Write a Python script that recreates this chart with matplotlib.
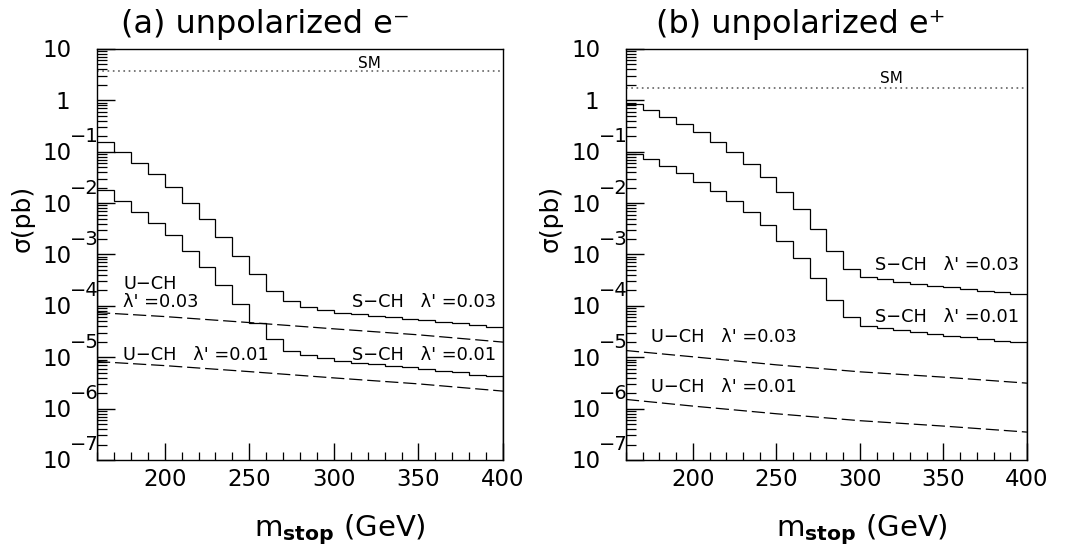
import numpy as np
import matplotlib
matplotlib.use("Agg")
import matplotlib.pyplot as plt
from matplotlib.ticker import LogLocator, MultipleLocator, NullFormatter
from matplotlib.transforms import offset_copy

plt.rcParams["font.family"] = ["DejaVu Sans"]
plt.rcParams["lines.scale_dashes"] = False

# stop mass bin edges (GeV), 10 GeV bins
edges = np.arange(160, 401, 10)
m_uch = [160, 200, 250, 300, 350, 400]

# (a) unpolarized e-   cross sections in pb
a_sch_03 = [1.53e-1, 1.00e-1, 6.14e-2, 3.75e-2, 2.04e-2, 1.02e-2, 4.86e-3, 2.23e-3,
            9.53e-4, 4.14e-4, 1.96e-4, 1.27e-4, 9.7e-5, 8.36e-5, 7.41e-5, 6.84e-5,
            6.38e-5, 5.97e-5, 5.58e-5, 5.22e-5, 4.89e-5, 4.57e-5, 4.18e-5, 3.85e-5]
a_sch_01 = [1.81e-2, 1.12e-2, 6.84e-3, 4.18e-3, 2.40e-3, 1.19e-3, 5.66e-4, 2.56e-4,
            1.08e-4, 4.60e-5, 2.25e-5, 1.35e-5, 1.11e-5, 9.6e-6, 8.5e-6, 7.8e-6,
            7.3e-6, 6.8e-6, 6.4e-6, 5.9e-6, 5.4e-6, 5.1e-6, 4.6e-6, 4.3e-6]
a_uch_03 = [7.41e-5, 6.19e-5, 4.73e-5, 3.57e-5, 2.73e-5, 1.97e-5]
a_uch_01 = [8.24e-6, 6.87e-6, 5.25e-6, 3.96e-6, 3.03e-6, 2.19e-6]
a_sm = 3.78

# (b) unpolarized e+
b_sch_03 = [8.51e-1, 6.50e-1, 4.69e-1, 3.48e-1, 2.46e-1, 1.57e-1, 1.00e-1, 5.79e-2,
            3.28e-2, 1.64e-2, 7.60e-3, 3.10e-3, 1.19e-3, 5.18e-4, 3.61e-4, 3.30e-4,
            2.97e-4, 2.68e-4, 2.45e-4, 2.31e-4, 2.14e-4, 1.99e-4, 1.85e-4, 1.73e-4]
b_sch_01 = [8.93e-2, 7.14e-2, 5.37e-2, 3.82e-2, 2.62e-2, 1.75e-2, 1.12e-2, 6.65e-3,
            3.77e-3, 1.84e-3, 8.48e-4, 3.46e-4, 1.31e-4, 6.03e-5, 4.08e-5, 3.68e-5,
            3.41e-5, 3.12e-5, 2.85e-5, 2.64e-5, 2.46e-5, 2.28e-5, 2.11e-5, 1.97e-5]
b_uch_03 = [1.35e-5, 1.02e-5, 7.11e-6, 5.20e-6, 4.10e-6, 3.13e-6]
b_uch_01 = [1.51e-6, 1.12e-6, 7.94e-7, 5.82e-7, 4.57e-7, 3.49e-7]
b_sm = 1.77

decades = [1, 0, -1, -2, -3, -4, -5, -6, -7]

fig = plt.figure(figsize=(10.66, 5.54), dpi=100)
axa = fig.add_axes([0.0910, 0.1697, 0.3809, 0.7419])
axb = fig.add_axes([0.5872, 0.1697, 0.3762, 0.7419])


def panel(ax, sch03, sch01, uch03, uch01, sm):
    ax.stairs(sch03, edges, color="black", lw=0.9)
    ax.stairs(sch01, edges, color="black", lw=0.9)
    ax.plot(m_uch, uch03, color="black", lw=0.9, dashes=(9.5, 3.5))
    ax.plot(m_uch, uch01, color="black", lw=0.9, dashes=(9.5, 3.5))
    ax.axhline(sm, color="#555555", lw=1.1, dashes=(1.2, 2.6))
    ax.set_yscale("log")
    ax.set_xlim(160, 400)
    ax.set_ylim(1e-7, 10)
    ax.xaxis.set_major_locator(MultipleLocator(50))
    ax.xaxis.set_minor_locator(MultipleLocator(10))
    ax.yaxis.set_major_locator(LogLocator(base=10, numticks=20))
    ax.yaxis.set_minor_locator(LogLocator(base=10, subs=np.arange(2, 10), numticks=20))
    ax.yaxis.set_major_formatter(NullFormatter())
    ax.yaxis.set_minor_formatter(NullFormatter())
    ax.tick_params(axis="x", which="both", direction="in", top=False, labelsize=16.5, pad=6)
    ax.tick_params(axis="x", which="major", length=12, width=1.0)
    ax.tick_params(axis="x", which="minor", length=5.5, width=0.9)
    ax.tick_params(axis="y", which="both", direction="in", right=False)
    ax.tick_params(axis="y", which="major", length=13, width=1.0)
    ax.tick_params(axis="y", which="minor", length=7, width=0.9)
    for s in ax.spines.values():
        s.set_linewidth(1.0)
    # ROOT-style decade labels
    tr = ax.get_yaxis_transform()
    base_tr = offset_copy(tr, fig=fig, x=-25, y=-2, units="dots")
    exp_tr = offset_copy(tr, fig=fig, x=-27, y=15, units="dots")
    one_tr = offset_copy(tr, fig=fig, x=-27, y=-2, units="dots")
    for k in decades:
        if k == 0:
            ax.text(0, 1.0, "1", transform=one_tr, ha="right", va="center", fontsize=16.5)
        else:
            ax.text(0, 10.0 ** k, "10", transform=base_tr, ha="right", va="center", fontsize=16.5)
            if k < 0:
                ax.text(0, 10.0 ** k, "\u2212%d" % (-k), transform=exp_tr, ha="left",
                        va="center", fontsize=14)


panel(axa, a_sch_03, a_sch_01, a_uch_03, a_uch_01, a_sm)
panel(axb, b_sch_03, b_sch_01, b_uch_03, b_uch_01, b_sm)

fs = 12.8
# panel (a) annotations
axa.text(321, 5.3, "SM", ha="center", va="center", fontsize=11)
axa.text(175.4, 1.79e-4, "U\u2212CH\n\u03bb' =0.03", ha="left", va="center",
         fontsize=fs, linespacing=0.95)
axa.text(310.6, 1.21e-4, "S\u2212CH   \u03bb' =0.03", ha="left", va="center", fontsize=fs)
axa.text(175.4, 1.11e-5, "U\u2212CH   \u03bb' =0.01", ha="left", va="center", fontsize=fs)
axa.text(310.6, 1.11e-5, "S\u2212CH   \u03bb' =0.01", ha="left", va="center", fontsize=fs)

# panel (b) annotations
axb.text(319, 2.69, "SM", ha="center", va="center", fontsize=11)
axb.text(309, 6.28e-4, "S\u2212CH   \u03bb' =0.03", ha="left", va="center", fontsize=fs)
axb.text(309, 6.19e-5, "S\u2212CH   \u03bb' =0.01", ha="left", va="center", fontsize=fs)
axb.text(174.8, 2.53e-5, "U\u2212CH   \u03bb' =0.03", ha="left", va="center", fontsize=fs)
axb.text(174.8, 2.69e-6, "U\u2212CH   \u03bb' =0.01", ha="left", va="center", fontsize=fs)

# titles and axis labels
fig.text(0.2486, 0.955, "(a) unpolarized e\u207b", ha="center", va="center", fontsize=23)
fig.text(0.7514, 0.955, "(b) unpolarized e\u207a", ha="center", va="center", fontsize=23)
for xc in (0.319, 0.8086):
    fig.text(xc, 0.043, r"m$_{\mathbf{stop}}$ (GeV)", ha="center", va="center", fontsize=21)
for xc in (0.0215, 0.517):
    fig.text(xc, 0.6065, "\u03c3(pb)", ha="center", va="center", rotation=90, fontsize=18)

fig.savefig("out.png", dpi=100)
